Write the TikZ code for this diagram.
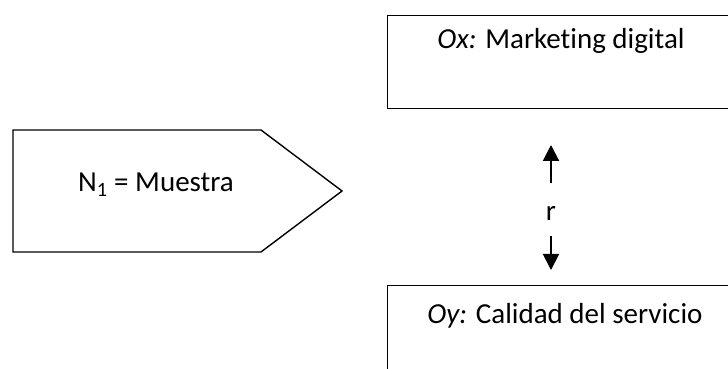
\documentclass[tikz,border=0pt]{standalone}
\usepackage{fontspec}
\setmainfont[Ligatures=NoCommon]{Carlito}
\usetikzlibrary{arrows.meta}
\begin{document}
\begin{tikzpicture}[x=1pt,y=1pt,
  shapeline/.style={draw=black, line width=1.4pt},
  lbl/.style={font=\fontsize{29}{34}\selectfont, inner sep=0pt, anchor=base},
  vlink/.style={line width=2pt, -{Triangle[width=16pt,length=16pt]}}]
\useasboundingbox (0,0) rectangle (728,369);
\clip (0,0) rectangle (728,369);
% pentagon (sample)
\draw[shapeline] (13,239) -- (261,239) -- (342,178) -- (261,117) -- (13,117) -- cycle;
\node[lbl] (n1) at (156,177) {N\textsubscript{1} = Muestra};
% top box
\node[shapeline, rectangle, minimum width=360pt, minimum height=93pt, anchor=north west, inner sep=0pt] (ox) at (387,354) {};
\node[lbl] (oxt) at (561,320) {{\itshape Ox:} Marketing digital};
% bottom box
\node[shapeline, rectangle, minimum width=360pt, minimum height=100pt, anchor=north west, inner sep=0pt] (oy) at (387,84) {};
\node[lbl] (oyt) at (565,45) {{\itshape Oy:} Calidad del servicio};
% correlation
\node[lbl, anchor=center] (r) at (551,156) {r};
\coordinate (upS) at (551,186);
\coordinate (upE) at (551,224);
\coordinate (dnS) at (551,133);
\coordinate (dnE) at (551,99);
\draw[vlink] (upS) -- (upE);
\draw[vlink] (dnS) -- (dnE);
\end{tikzpicture}
\end{document}
